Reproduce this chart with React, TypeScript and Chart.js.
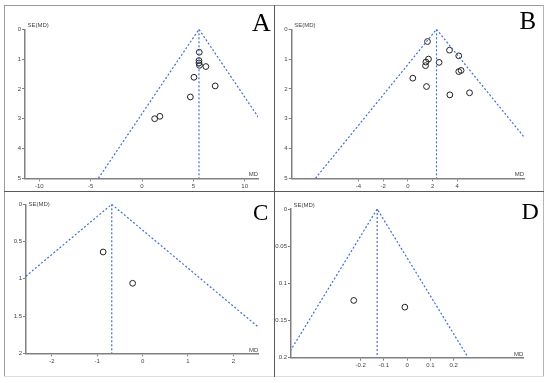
import React, { useEffect, useRef } from "react";
import { Chart, registerables } from "chart.js";
Chart.register(...registerables);

// ---------- Data ----------
// Panel A
const aMD = [5.58, 5.55, 5.55, 5.6, 6.22, 5.06, 7.13, 4.71, 1.74, 1.23];
const aSE = [0.77, 1.05, 1.13, 1.21, 1.25, 1.61, 1.9, 2.27, 2.92, 3.0];
const aPooled = 5.55;
const aFunnelMD = [-4.25, 5.55, 15.35];
const aFunnelSE = [5, 0, 5];
const aXTicks = [-10, -5, 0, 5, 10];
const aYTicks = [0, 1, 2, 3, 4, 5];

// Panel B
const bMD = [1.59, 3.37, 4.12, 1.67, 1.46, 1.43, 2.53, 4.31, 4.12, 0.4, 1.51, 4.99, 3.4];
const bSE = [0.41, 0.7, 0.89, 1.0, 1.1, 1.22, 1.11, 1.38, 1.42, 1.64, 1.92, 2.13, 2.2];
const bPooled = 2.32;
const bFunnelMD = [-7.48, 2.32, 12.12];
const bFunnelSE = [5, 0, 5];
const bXTicks = [-4, -2, 0, 2, 4];
const bYTicks = [0, 1, 2, 3, 4, 5];

// Panel C
const cMD = [-0.87, -0.22];
const cSE = [0.64, 1.06];
const cPooled = -0.68;
const cFunnelMD = [-4.6, -0.68, 3.24];
const cFunnelSE = [2, 0, 2];
const cXTicks = [-2, -1, 0, 1, 2];
const cYTicks = [0, 0.5, 1, 1.5, 2];

// Panel D
const dMD = [-0.23, -0.01];
const dSE = [0.123, 0.132];
const dPooled = -0.129;
const dFunnelMD = [-0.521, -0.129, 0.263];
const dFunnelSE = [0.2, 0, 0.2];
const dXTicks = [-0.2, -0.1, 0, 0.1, 0.2];
const dYTicks = [0, 0.05, 0.1, 0.15, 0.2];

const panelLetters = ["A", "B", "C", "D"];
const yAxisLabel = "SE(MD)";
const xAxisLabel = "MD";

// ---------- Styles / layout ----------
const BLUE = "#3f6fd4";
const AXIS = "#808080";
const TXT = "#444";
const FONT = "'Liberation Sans', Arial, sans-serif";

type PanelProps = {
  md: number[]; se: number[]; pooled: number;
  fMD: number[]; fSE: number[];
  xTicks: number[]; yTicks: number[];
  xMin: number; xMax: number; yMax: number;
  left: number; top: number; w: number; h: number;
  padTop: number; padRight: number; yW: number; xH: number;
  seDy: number; mdDy: number;
};

function Panel(p: PanelProps) {
  const ref = useRef<HTMLCanvasElement>(null);
  useEffect(() => {
    const canvas = ref.current!;
    const labelPlugin = {
      id: "axisLabels",
      afterDraw(chart: any) {
        const ctx = chart.ctx;
        const ca = chart.chartArea;
        ctx.save();
        ctx.font = `6px ${FONT}`;
        ctx.fillStyle = TXT;
        ctx.textBaseline = "middle";
        ctx.textAlign = "left";
        ctx.fillText(yAxisLabel, ca.left + 2.5, ca.top + p.seDy);
        ctx.textAlign = "right";
        ctx.fillText(xAxisLabel, ca.right, ca.bottom + p.mdDy);
        ctx.restore();
      },
    };
    const funnel = p.fMD.map((x, i) => ({ x, y: p.fSE[i] }));
    const vline = [{ x: p.pooled, y: 0 }, { x: p.pooled, y: p.yMax }];
    const pts = p.md.map((x, i) => ({ x, y: p.se[i] }));
    const tickFont = { size: 6, family: FONT };
    const chart = new Chart(canvas, {
      type: "scatter",
      data: {
        datasets: [
          { data: funnel, showLine: true, borderColor: BLUE, borderWidth: 1.2, borderDash: [2, 2], pointRadius: 0, tension: 0, fill: false } as any,
          { data: vline, showLine: true, borderColor: BLUE, borderWidth: 1.2, borderDash: [2, 2], pointRadius: 0, tension: 0, fill: false } as any,
          { data: pts, showLine: false, pointRadius: 2.9, borderColor: "#222", backgroundColor: "rgba(0,0,0,0)", pointBorderWidth: 1, borderWidth: 1 } as any,
        ],
      },
      options: {
        animation: false,
        responsive: false,
        maintainAspectRatio: false,
        devicePixelRatio: 1,
        layout: { padding: { left: 0, top: p.padTop, right: p.padRight, bottom: 0 } },
        plugins: { legend: { display: false }, tooltip: { enabled: false }, title: { display: false } },
        scales: {
          x: {
            type: "linear", min: p.xMin, max: p.xMax,
            afterBuildTicks: (s: any) => { s.ticks = p.xTicks.map((v) => ({ value: v })); },
            afterFit: (s: any) => { s.height = p.xH; },
            ticks: { autoSkip: false, maxRotation: 0, font: tickFont, color: TXT, padding: 1, callback: (v: any) => String(v) },
            grid: { drawOnChartArea: false, drawTicks: true, tickLength: 3, color: AXIS },
            border: { color: AXIS, width: 1.5 },
          },
          y: {
            type: "linear", min: 0, max: p.yMax, reverse: true,
            afterBuildTicks: (s: any) => { s.ticks = p.yTicks.map((v) => ({ value: v })); },
            afterFit: (s: any) => { s.width = p.yW; },
            ticks: { autoSkip: false, font: tickFont, color: TXT, padding: 1, callback: (v: any) => String(v) },
            grid: { drawOnChartArea: false, drawTicks: true, tickLength: 3, color: AXIS },
            border: { color: AXIS, width: 1.5 },
          },
        },
      } as any,
      plugins: [labelPlugin],
    });
    return () => chart.destroy();
  }, []);
  return (
    <canvas
      ref={ref}
      width={p.w}
      height={p.h}
      style={{ position: "absolute", left: p.left, top: p.top, width: p.w, height: p.h, display: "block" }}
    />
  );
}

function Letter({ t, left, top, size }: { t: string; left: number; top: number; size: number }) {
  return (
    <div style={{ position: "absolute", left, top, fontFamily: "'Liberation Serif', 'Times New Roman', serif", fontSize: size, lineHeight: `${size}px`, color: "#000" }}>
      {t}
    </div>
  );
}

function Line({ l, t, w, h, c }: { l: number; t: number; w: number; h: number; c: string }) {
  return <div style={{ position: "absolute", left: l, top: t, width: w, height: h, background: c }} />;
}

export default function App() {
  return (
    <div style={{ position: "absolute", left: 0, top: 0, width: 550, height: 383, background: "#fff", overflow: "hidden" }}>
      <Panel md={aMD} se={aSE} pooled={aPooled} fMD={aFunnelMD} fSE={aFunnelSE} xTicks={aXTicks} yTicks={aYTicks}
        xMin={-11.4} xMax={11.3} yMax={5}
        left={5} top={6} w={268} h={185} padTop={23.3} padRight={15} yW={20} xH={12.7} seDy={-4.3} mdDy={-4.3} />
      <Panel md={bMD} se={bSE} pooled={bPooled} fMD={bFunnelMD} fSE={bFunnelSE} xTicks={bXTicks} yTicks={bYTicks}
        xMin={-9.4} xMax={9.4} yMax={5}
        left={275} top={6} w={267} h={185} padTop={23.3} padRight={18} yW={16.7} xH={12.7} seDy={-4.3} mdDy={-4.3} />
      <Panel md={cMD} se={cSE} pooled={cPooled} fMD={cFunnelMD} fSE={cFunnelSE} xTicks={cXTicks} yTicks={cYTicks}
        xMin={-2.57} xMax={2.55} yMax={2}
        left={5} top={192} w={268} h={183} padTop={12.3} padRight={14.7} yW={21} xH={21.7} seDy={0} mdDy={-2.6} />
      <Panel md={dMD} se={dSE} pooled={dPooled} fMD={dFunnelMD} fSE={dFunnelSE} xTicks={dXTicks} yTicks={dYTicks}
        xMin={-0.5} xMax={0.5} yMax={0.2}
        left={275} top={192} w={267} h={183} padTop={17} padRight={18.7} yW={16} xH={17.3} seDy={-3.3} mdDy={-3.7} />

      <Line l={4} t={5} w={540} h={1} c="#9a9a9a" />
      <Line l={4} t={5} w={1} h={372} c="#9a9a9a" />
      <Line l={543} t={5} w={1} h={372} c="#b5b5b5" />
      <Line l={4} t={376} w={540} h={1} c="#dddddd" />
      <Line l={274} t={5} w={1} h={372} c="#5a5a5a" />
      <Line l={4} t={191} w={540} h={1} c="#5a5a5a" />

      <Letter t={panelLetters[0]} left={252} top={10.4} size={26} />
      <Letter t={panelLetters[1]} left={519.5} top={8.1} size={25} />
      <Letter t={panelLetters[2]} left={253} top={201.3} size={23} />
      <Letter t={panelLetters[3]} left={521.5} top={199.1} size={24} />
    </div>
  );
}
